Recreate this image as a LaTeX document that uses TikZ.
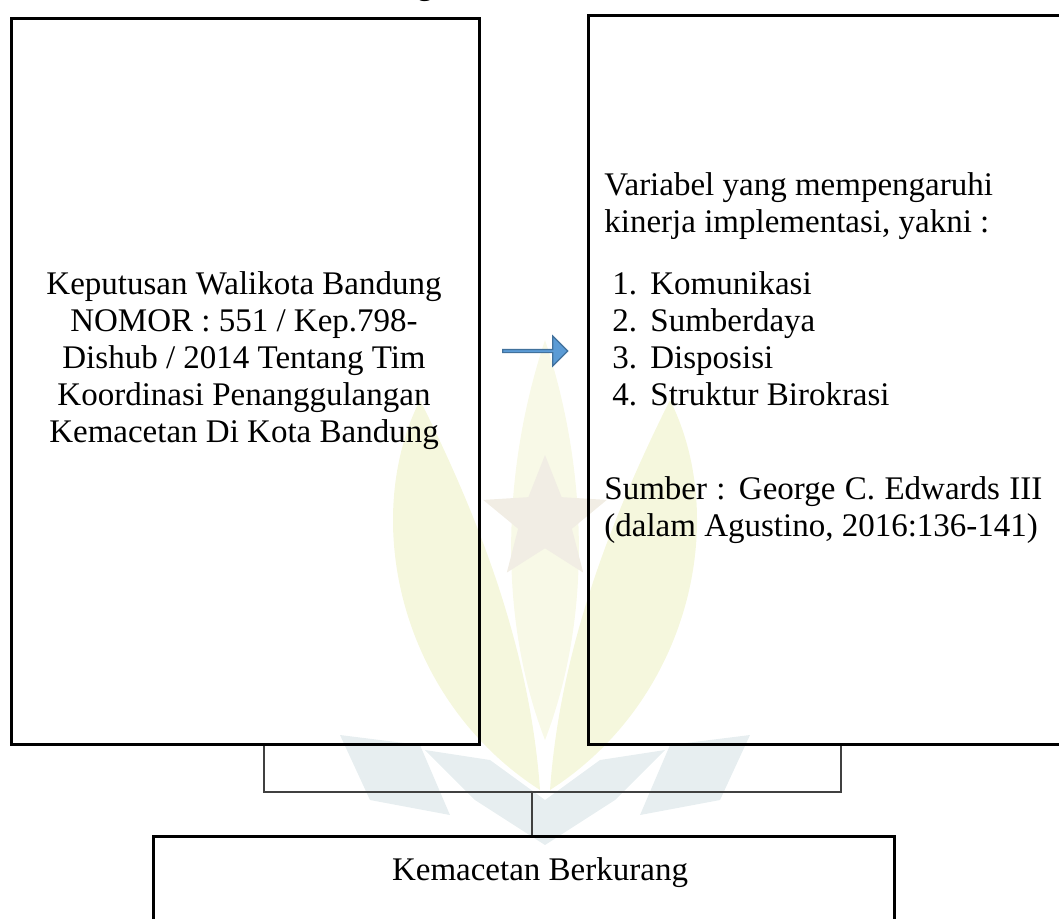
\documentclass[tikz,border=0pt]{standalone}
\usepackage{fontspec}
\setmainfont{Liberation Serif}
\usetikzlibrary{positioning,shapes.arrows,shapes.geometric}
\definecolor{panahbiru}{HTML}{5B9BD5}
\definecolor{panahtepi}{HTML}{41719C}
\definecolor{logokuning}{HTML}{F5F7DD}
\definecolor{logoabu}{HTML}{E7EEF0}
\definecolor{logobintang}{HTML}{F1EDE4}

\begin{document}
\begin{tikzpicture}[x=0.5pt,y=-0.5pt,
  kotak/.style={draw=black, line width=1.5pt, inner sep=0pt},
  garis/.style={draw=black!75, line width=0.8pt},
  teks/.style={font=\fontsize{16.5}{18.5}\selectfont, inner sep=0pt}]
\useasboundingbox (0,0) rectangle (1059,918);

% logo samar di latar
\fill[logokuning] (540,790) .. controls (400,700) and (360,520) .. (420,400) .. controls (480,520) and (530,650) .. (540,790);
\fill[logokuning] (550,790) .. controls (690,700) and (730,520) .. (670,400) .. controls (610,520) and (560,650) .. (550,790);
\fill[logokuning!70!white] (545,740) .. controls (495,610) and (505,460) .. (545,340) .. controls (585,460) and (595,610) .. (545,740);
\node[star, star points=5, star point ratio=2.3, fill=logobintang, minimum size=65pt, inner sep=0pt] (bintang) at (545,520) {};
\fill[logoabu] (425,750) -- (490,760) -- (545,800) -- (600,760) -- (665,750) -- (615,800) -- (545,845) -- (475,800) -- cycle;
\fill[logoabu] (340,735) -- (420,745) -- (450,815) -- (370,800) -- cycle;
\fill[logoabu] (750,735) -- (670,745) -- (640,815) -- (720,800) -- cycle;

% judul yang terpotong
\node[teks, anchor=base] (judul) at (425,-6) {g};

% kotak-kotak
\node[kotak, anchor=north west, minimum width=234pt, minimum height=363pt] (kiri) at (10,17) {};
\node[kotak, anchor=north west, minimum width=242pt, minimum height=364.5pt] (kanan) at (587,14) {};
\node[kotak, anchor=north west, minimum width=370.5pt, minimum height=60pt] (bawah) at (152,835) {};

% isi kotak kiri
\foreach \j/\t in {0/{Keputusan Walikota Bandung},1/{NOMOR : 551 / Kep.798-},2/{Dishub / 2014 Tentang Tim},3/{Koordinasi Penanggulangan},4/{Kemacetan Di Kota Bandung}}
  \node[teks, anchor=base] (kiri\j) at (244,294+37*\j) {\t};

% isi kotak kanan
\node[teks, anchor=base west] (variabel) at (604,195) {Variabel yang mempengaruhi};
\node[teks, anchor=base west] (kinerja) at (604,232) {kinerja implementasi, yakni :};
\foreach \i/\t in {1/Komunikasi,2/Sumberdaya,3/Disposisi,4/Struktur Birokrasi} {
  \node[teks, anchor=base west] (no\i) at (612,257+37*\i) {\i.};
  \node[teks, anchor=base west] (butir\i) at (650,257+37*\i) {\t};
}
\node[teks, anchor=base west] (sumber) at (604,499) {\makebox[219pt][s]{Sumber : George C. Edwards III}};
\node[teks, anchor=base west] (dalam) at (604,536) {(dalam Agustino, 2016:136-141)};

% hasil
\node[teks, anchor=base] (hasil) at (540,880) {Kemacetan Berkurang};

% panah
\node[single arrow, draw=panahtepi, fill=panahbiru, line width=0.6pt,
  minimum height=32.5pt, minimum width=15pt, single arrow head extend=2.5pt,
  inner sep=0pt] (panah) at (534.5,351) {};

% penghubung
\coordinate (sudutkiri) at (264,792);
\coordinate (sudutkanan) at (841,792);
\draw[garis] (sudutkiri |- kiri.south) -- (sudutkiri) -- (sudutkanan) -- (sudutkanan |- kanan.south);
\draw[garis] (532,792) -- (bawah.north -| 532,0);
\end{tikzpicture}
\end{document}
